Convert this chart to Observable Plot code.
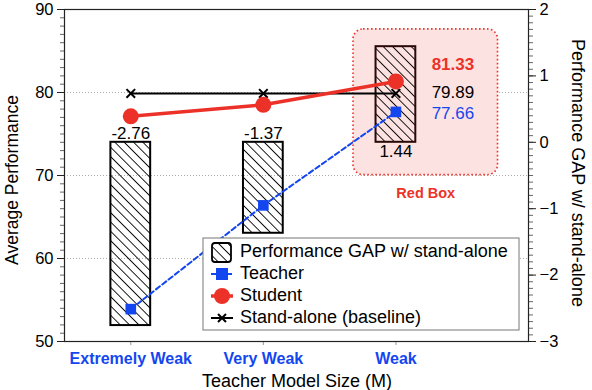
<!DOCTYPE html>
<html><head><meta charset="utf-8">
<script src="https://cdn.jsdelivr.net/npm/d3@7"></script>
<script src="https://cdn.jsdelivr.net/npm/@observablehq/plot@0.6"></script>
<style>body{margin:0;background:#fff;font-family:"Liberation Sans",Arial,sans-serif}</style>
</head><body><div id="chart"></div>
<script>
const categories = ["Extremely Weak", "Very Weak", "Weak"];
const teacher = [53.9, 66.4, 77.66];
const student = [77.13, 78.52, 81.33];
const standalone = [79.89, 79.89, 79.89];
const gap = [-2.76, -1.37, 1.44];
const leftTicks = [50, 60, 70, 80, 90];
const rightTicks = [-3, -2, -1, 0, 1, 2];
const legendLabels = ["Performance GAP w/ stand-alone", "Teacher", "Student", "Stand-alone (baseline)"];

const BLUE = "#1446f0", RED = "#ec3228";
// right axis (gap) mapped onto left axis scale: gap 0 -> 74, 1 unit -> 8
const g2y = g => 74 + 8 * g;
const fmt = v => (v < 0 ? "\u2212" + Math.abs(v) : String(v));

const idx = categories.map((_, i) => i);
const rows = idx.map(i => ({i, cat: categories[i], teacher: teacher[i], student: student[i], standalone: standalone[i], gap: gap[i]}));
const box = [{x1: 1.68, x2: 2.77, y1: 70.05, y2: 87.6}];

const font = "Liberation Sans, Arial, sans-serif";
const chart = Plot.plot({
  width: 592, height: 390,
  marginLeft: 64, marginRight: 64, marginTop: 9, marginBottom: 49,
  style: {fontFamily: font, background: "white", overflow: "visible"},
  x: {type: "linear", domain: [-0.5, 3]},
  y: {domain: [50, 90]},
  marks: [
    Plot.ruleY([60, 70, 80], {stroke: "#999", strokeWidth: 0.8, strokeDasharray: "1,2"}),
    Plot.rect(box, {x1: "x1", x2: "x2", y1: "y1", y2: "y2", fill: "#fde2e2", stroke: RED, strokeWidth: 1.6, strokeDasharray: "1.6,2.4", rx: 10}),
    Plot.text(box, {x: d => (d.x1 + d.x2) / 2, y: "y1", text: () => "Red Box", dy: 18, fill: RED, fontWeight: "bold", fontSize: 14.5}),
    Plot.rect(rows, {x1: d => d.i - 0.15, x2: d => d.i + 0.15, y1: g2y(0), y2: d => g2y(d.gap), fill: "url(#hatch)", stroke: d => d.i === 2 ? "#2a0808" : "black", strokeWidth: 2}),
    Plot.text(rows, {x: "i", y: g2y(0), text: d => d.gap.toFixed(2), fontSize: 17, fill: "black", filter: d => d.gap < 0, lineAnchor: "bottom", dy: -3}),
    Plot.text(rows, {x: "i", y: g2y(0), text: d => d.gap.toFixed(2), fontSize: 17, fill: "black", filter: d => d.gap >= 0, lineAnchor: "top", dy: 3}),
    Plot.line(rows, {x: "i", y: "standalone", stroke: "black", strokeWidth: 2}),
    Plot.dot(rows, {x: "i", y: "standalone", symbol: "times", r: 4, stroke: "black", strokeWidth: 2}),
    Plot.line(rows, {x: "i", y: "teacher", stroke: BLUE, strokeWidth: 2, strokeDasharray: "5,3"}),
    Plot.dot(rows, {x: "i", y: "teacher", symbol: "square", r: 6, fill: BLUE, stroke: "none"}),
    Plot.line(rows, {x: "i", y: "student", stroke: RED, strokeWidth: 3.5}),
    Plot.dot(rows, {x: "i", y: "student", r: 8, fill: RED, stroke: "none"}),
    Plot.text(rows.slice(2), {x: d => d.i + 0.43, y: "student", text: d => d.student.toFixed(2), dy: -17, fill: RED, fontWeight: "bold", fontSize: 17}),
    Plot.text(rows.slice(2), {x: d => d.i + 0.43, y: "standalone", text: d => d.standalone.toFixed(2), dy: -1, fill: "black", fontSize: 17}),
    Plot.text(rows.slice(2), {x: d => d.i + 0.43, y: "teacher", text: d => d.teacher.toFixed(2), dy: 1.5, fill: BLUE, fontSize: 17}),
    // left axis
    Plot.axisY({anchor: "left", ticks: d3.range(50, 91, 1), tickSize: 4, text: null, stroke: "#666"}),
    Plot.axisY({anchor: "left", ticks: leftTicks, tickSize: 7, tickPadding: 4, fontSize: 16.5, fill: "black", stroke: "#222", label: null}),
    // right axis
    Plot.axisY({anchor: "right", ticks: d3.range(-30, 21, 1).map(v => g2y(v / 10)), tickSize: 4, text: null, stroke: "#666"}),
    Plot.axisY({anchor: "right", ticks: rightTicks.map(g2y), tickSize: 7, tickPadding: 4, tickFormat: v => fmt(Math.round((v - 74) / 8)), fontSize: 16.5, fill: "black", stroke: "#222", label: null}),
    // x axis
    Plot.axisX({ticks: idx, tickFormat: i => categories[i], tickSize: 4, tickPadding: 7, stroke: "#999", fill: BLUE, fontWeight: "bold", fontSize: 16, label: null}),
    Plot.frame({stroke: "#222", strokeWidth: 1.2})
  ]
});

const svg = d3.select(chart);
const defs = svg.insert("defs", ":first-child");
const pat = defs.append("pattern").attr("id", "hatch").attr("patternUnits", "userSpaceOnUse")
  .attr("width", 6.6).attr("height", 6.6).attr("patternTransform", "rotate(-45)");
pat.append("line").attr("x1", 0.5).attr("y1", 0).attr("x2", 0.5).attr("y2", 6.6).attr("stroke", "black").attr("stroke-width", 0.9);

// axis titles
svg.append("text").attr("transform", "translate(13,180) rotate(-90)").attr("text-anchor", "middle")
  .attr("dominant-baseline", "middle").style("font-size", "17.5px").style("font-family", font).text("Average Performance");
svg.append("text").attr("transform", "translate(577,173) rotate(90)").attr("text-anchor", "middle")
  .attr("dominant-baseline", "middle").style("font-size", "18px").style("font-family", font).text("Performance GAP w/ stand-alone");
svg.append("text").attr("x", 297).attr("y", 387).attr("text-anchor", "middle")
  .style("font-size", "18px").style("font-family", font).text("Teacher Model Size (M)");

// legend
const lg = svg.append("g").attr("transform", "translate(203,238)");
lg.append("rect").attr("width", 316).attr("height", 92).attr("fill", "white").attr("stroke", "#777").attr("stroke-width", 1);
const rowY = [14, 36, 58, 80];
legendLabels.forEach((t, k) => {
  lg.append("text").attr("x", 37).attr("y", rowY[k]).attr("dominant-baseline", "middle").attr("text-anchor", "start")
    .style("font-size", "18px").style("font-family", font).text(t);
});
lg.append("rect").attr("x", 9).attr("y", rowY[0] - 9).attr("width", 19).attr("height", 19).attr("rx", 3)
  .attr("fill", "url(#hatch)").attr("stroke", "black").attr("stroke-width", 1.8);
lg.append("line").attr("x1", 8).attr("x2", 30).attr("y1", rowY[1]).attr("y2", rowY[1]).attr("stroke", BLUE).attr("stroke-width", 2).attr("stroke-dasharray", "5,3");
lg.append("rect").attr("x", 13).attr("y", rowY[1] - 6).attr("width", 12).attr("height", 12).attr("fill", BLUE);
lg.append("line").attr("x1", 8).attr("x2", 30).attr("y1", rowY[2]).attr("y2", rowY[2]).attr("stroke", RED).attr("stroke-width", 3.5);
lg.append("circle").attr("cx", 19).attr("cy", rowY[2]).attr("r", 8).attr("fill", RED);
lg.append("line").attr("x1", 8).attr("x2", 30).attr("y1", rowY[3]).attr("y2", rowY[3]).attr("stroke", "black").attr("stroke-width", 2);
lg.append("path").attr("d", `M15,${rowY[3]-4}L23,${rowY[3]+4}M15,${rowY[3]+4}L23,${rowY[3]-4}`).attr("stroke", "black").attr("stroke-width", 2);

document.getElementById("chart").appendChild(chart);
</script>
</body></html>
